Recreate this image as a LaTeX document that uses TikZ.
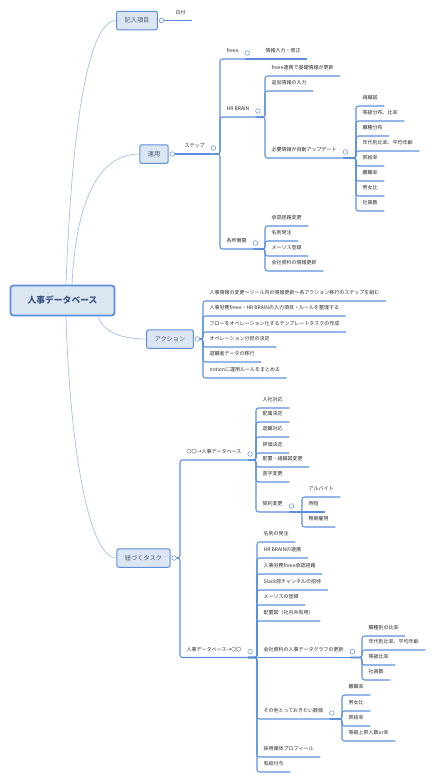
\documentclass[tikz,border=0pt]{standalone}
\usepackage{fontspec}
\setmainfont{Noto Sans CJK JP}
\usetikzlibrary{positioning,calc}
\definecolor{linkblue}{HTML}{5B8FDC}
\definecolor{branchblue}{HTML}{A3C1EC}
\definecolor{boxfill}{HTML}{DCE6F3}
\definecolor{boxline}{HTML}{5A8ED8}
\definecolor{txtgray}{HTML}{2A2A2A}
\definecolor{topictxt}{HTML}{4A5A72}
\definecolor{roottxt}{HTML}{3A5682}

\begin{document}
\begin{tikzpicture}[
    x=1pt, y=-1pt,
    root/.style={draw=boxline, line width=1.8pt, rounded corners=3pt, fill=boxfill, minimum width=104pt, minimum height=30pt, font=\fontsize{8.8}{10}\selectfont\bfseries, text=roottxt},
    topic/.style={draw=boxline, line width=1pt, rounded corners=2pt, fill=boxfill, minimum height=18.5pt, inner xsep=8pt, font=\fontsize{6.2}{7}\selectfont, text=topictxt},
    leaf/.style={anchor=south west, inner xsep=6.5pt, inner ysep=5.5pt, text height=4.2pt, text depth=.8pt, font=\fontsize{5}{6}\selectfont, text=txtgray},
    tog/.style={circle, draw=linkblue, fill=white, line width=.5pt, inner sep=0pt, minimum size=4.6pt},
    link/.style={draw=linkblue, line width=1.05pt, rounded corners=2.5pt},
    branch/.style={draw=branchblue, line width=.7pt}
]
\useasboundingbox (0,0) rectangle (434,780);

% root and main topics
\node[root] (db) at (62.5,300.5) {人事データベース};
\node[topic] (kinyu) at (137,20.5) {記入項目};
\node[topic] (unyo) at (154,154) {運用};
\node[topic] (action) at (170,339) {アクション};
\node[topic] (task) at (143.5,558) {紐づくタスク};

\draw[branch] ([xshift=3.5pt]db.north) .. controls ($(db.north)+(9.5,-165)$) and ($(kinyu.west)+(-27,0)$) .. (kinyu.west);
\draw[branch] ([xshift=9.5pt]db.north) .. controls ($(db.north)+(13.5,-85)$) and ($(unyo.west)+(-40,0)$) .. (unyo.west);
\draw[branch] ([xshift=35.5pt]db.south) .. controls ($(db.south)+(41.5,17)$) and ($(action.west)+(-22,0)$) .. (action.west);
\draw[branch] ([xshift=3.5pt]db.south) .. controls ($(db.south)+(7.5,134.5)$) and ($(task.west)+(-27,0)$) .. (task.west);

\node[tog, right=1pt of kinyu] (kinyuT) {};
\node[tog, right=1pt of unyo] (unyoT) {};
\node[tog, right=1pt of action] (actionT) {};
\node[tog, right=1pt of task] (taskT) {};

% 記入項目
\node[leaf] (hiduke) at (169,20.5) {日付};
\draw[link] (kinyuT.east) -- (hiduke.south east);

% 運用
\node[leaf] (step) at (178,154) {ステップ};
\node[leaf] (freee) at (220,59) {freee};
\node[leaf] (hrb) at (220,117) {HR BRAIN};
\node[leaf] (kakusho) at (220,249) {各所展開};
\node[leaf] (jouhou) at (259,59) {情報入力・修正};
\node[leaf] (hrbA) at (265,76) {freee連携で基礎情報が更新};
\node[leaf] (hrbB) at (265,91) {追加情報の入力};
\node[leaf] (hrbC) at (265,158) {必要情報が自動アップデート};
\node[leaf] (autoA) at (356,106) {組織図};
\node[leaf] (autoB) at (356,121) {等級分布、比率};
\node[leaf] (autoC) at (356,136) {職種分布};
\node[leaf] (autoD) at (356,151) {年代別比率、平均年齢};
\node[leaf] (autoE) at (356,166) {昇給率};
\node[leaf] (autoF) at (356,181) {離職率};
\node[leaf] (autoG) at (356,196) {男女比};
\node[leaf] (autoH) at (356,211) {社員数};
\node[leaf] (kA) at (265,226) {承認経路変更};
\node[leaf] (kB) at (265,241) {名刺発注};
\node[leaf] (kC) at (265,256) {メーリス登録};
\node[leaf] (kD) at (265,271) {会社資料の情報更新};

\draw[link] (unyoT.east) -- (step.south east);
\draw[link] (step.south east) -- (step.south east -| freee.south west) |- (freee.south east);
\draw[link] (step.south east) -- (step.south east -| hrb.south west) |- (hrb.south east);
\draw[link] (step.south east) -- (step.south east -| kakusho.south west) |- (kakusho.south east);
\draw[link] (freee.south east) -- (jouhou.south east);
\draw[link] (hrb.south east) -- (hrb.south east -| hrbA.south west) |- (hrbA.south east);
\draw[link] (hrb.south east) -- (hrb.south east -| hrbB.south west) |- (hrbB.south east);
\draw[link] (hrb.south east) -- (hrb.south east -| hrbC.south west) |- (hrbC.south east);
\draw[link] (hrbC.south east) -- (hrbC.south east -| autoA.south west) |- (autoA.south east);
\draw[link] (hrbC.south east) -- (hrbC.south east -| autoB.south west) |- (autoB.south east);
\draw[link] (hrbC.south east) -- (hrbC.south east -| autoC.south west) |- (autoC.south east);
\draw[link] (hrbC.south east) -- (hrbC.south east -| autoD.south west) |- (autoD.south east);
\draw[link] (hrbC.south east) -- (hrbC.south east -| autoE.south west) |- (autoE.south east);
\draw[link] (hrbC.south east) -- (hrbC.south east -| autoF.south west) |- (autoF.south east);
\draw[link] (hrbC.south east) -- (hrbC.south east -| autoG.south west) |- (autoG.south east);
\draw[link] (hrbC.south east) -- (hrbC.south east -| autoH.south west) |- (autoH.south east);
\draw[link] (kakusho.south east) -- (kakusho.south east -| kA.south west) |- (kA.south east);
\draw[link] (kakusho.south east) -- (kakusho.south east -| kB.south west) |- (kB.south east);
\draw[link] (kakusho.south east) -- (kakusho.south east -| kC.south west) |- (kC.south east);
\draw[link] (kakusho.south east) -- (kakusho.south east -| kD.south west) |- (kD.south east);

% アクション
\node[leaf] (acA) at (203,301) {人事情報の変更〜ツール内の情報更新〜各アクション移行のステップを組む};
\node[leaf] (acB) at (203,316) {人事労務freee・HR BRAINの入力項目・ルールを整理する};
\node[leaf] (acC) at (203,332) {フローをオペレーション化するテンプレートタスクの作成};
\node[leaf] (acD) at (203,347) {オペレーション分担の決定};
\node[leaf] (acE) at (203,362) {退職者データの移行};
\node[leaf] (acF) at (203,378) {notionに運用ルールをまとめる};
\draw[link] (actionT.east) -- (actionT.east -| acA.south west) |- (acA.south east);
\draw[link] (actionT.east) -- (actionT.east -| acB.south west) |- (acB.south east);
\draw[link] (actionT.east) -- (actionT.east -| acC.south west) |- (acC.south east);
\draw[link] (actionT.east) -- (actionT.east -| acD.south west) |- (acD.south east);
\draw[link] (actionT.east) -- (actionT.east -| acE.south west) |- (acE.south east);
\draw[link] (actionT.east) -- (actionT.east -| acF.south west) |- (acF.south east);

% 紐づくタスク
\node[leaf] (tkIn) at (180,460) {〇〇→人事データベース};
\node[leaf] (tkOut) at (180,657.5) {人事データベース→〇〇};
\node[leaf] (inA) at (256,408) {入社対応};
\node[leaf] (inB) at (256,422) {配属決定};
\node[leaf] (inC) at (256,437) {退職対応};
\node[leaf] (inD) at (256,453) {評価決定};
\node[leaf] (inE) at (256,467) {配置・組織図変更};
\node[leaf] (inF) at (256,482) {苗字変更};
\node[leaf] (inG) at (256,512) {契約変更};
\node[leaf] (kyA) at (302,497) {アルバイト};
\node[leaf] (kyB) at (302,512) {時短};
\node[leaf] (kyC) at (302,527) {無期雇用};
\node[leaf] (outA) at (257,542) {名刺の発注};
\node[leaf] (outB) at (257,558) {HR BRAINの連携};
\node[leaf] (outC) at (257,574) {人事労務freee承認経路};
\node[leaf] (outD) at (257,590) {Slack部チャンネルの招待};
\node[leaf] (outE) at (257,605) {メーリスの登録};
\node[leaf] (outF) at (257,621) {配置図（社内共有用）};
\node[leaf] (outG) at (257,657.5) {会社資料の人事データグラフの更新};
\node[leaf] (outH) at (257,719) {その他とっておきたい数値};
\node[leaf] (outI) at (257,757) {採用媒体プロフィール};
\node[leaf] (outJ) at (257,772) {有給付与};
\node[leaf] (grA) at (362,636) {職種別の比率};
\node[leaf] (grB) at (362,650) {年代別比率、平均年齢};
\node[leaf] (grC) at (362,665) {等級比率};
\node[leaf] (grD) at (362,680) {社員数};
\node[leaf] (soA) at (342,695) {離職率};
\node[leaf] (soB) at (342,711) {男女比};
\node[leaf] (soC) at (342,726) {昇給率};
\node[leaf] (soD) at (342,741) {等級上昇人数or率};

\draw[link] (taskT.east) -- (taskT.east -| tkIn.south west) |- (tkIn.south east);
\draw[link] (taskT.east) -- (taskT.east -| tkOut.south west) |- (tkOut.south east);
\draw[link] (tkIn.south east) -- (tkIn.south east -| inA.south west) |- (inA.south east);
\draw[link] (tkIn.south east) -- (tkIn.south east -| inB.south west) |- (inB.south east);
\draw[link] (tkIn.south east) -- (tkIn.south east -| inC.south west) |- (inC.south east);
\draw[link] (tkIn.south east) -- (tkIn.south east -| inD.south west) |- (inD.south east);
\draw[link] (tkIn.south east) -- (tkIn.south east -| inE.south west) |- (inE.south east);
\draw[link] (tkIn.south east) -- (tkIn.south east -| inF.south west) |- (inF.south east);
\draw[link] (tkIn.south east) -- (tkIn.south east -| inG.south west) |- (inG.south east);
\draw[link] (inG.south east) -- (inG.south east -| kyA.south west) |- (kyA.south east);
\draw[link] (inG.south east) -- (kyB.south east);
\draw[link] (inG.south east) -- (inG.south east -| kyC.south west) |- (kyC.south east);
\draw[link] (tkOut.south east) -- (tkOut.south east -| outA.south west) |- (outA.south east);
\draw[link] (tkOut.south east) -- (tkOut.south east -| outB.south west) |- (outB.south east);
\draw[link] (tkOut.south east) -- (tkOut.south east -| outC.south west) |- (outC.south east);
\draw[link] (tkOut.south east) -- (tkOut.south east -| outD.south west) |- (outD.south east);
\draw[link] (tkOut.south east) -- (tkOut.south east -| outE.south west) |- (outE.south east);
\draw[link] (tkOut.south east) -- (tkOut.south east -| outF.south west) |- (outF.south east);
\draw[link] (tkOut.south east) -- (outG.south east);
\draw[link] (tkOut.south east) -- (tkOut.south east -| outH.south west) |- (outH.south east);
\draw[link] (tkOut.south east) -- (tkOut.south east -| outI.south west) |- (outI.south east);
\draw[link] (tkOut.south east) -- (tkOut.south east -| outJ.south west) |- (outJ.south east);
\draw[link] (outG.south east) -- (outG.south east -| grA.south west) |- (grA.south east);
\draw[link] (outG.south east) -- (outG.south east -| grB.south west) |- (grB.south east);
\draw[link] (outG.south east) -- (outG.south east -| grC.south west) |- (grC.south east);
\draw[link] (outG.south east) -- (outG.south east -| grD.south west) |- (grD.south east);
\draw[link] (outH.south east) -- (outH.south east -| soA.south west) |- (soA.south east);
\draw[link] (outH.south east) -- (outH.south east -| soB.south west) |- (soB.south east);
\draw[link] (outH.south east) -- (outH.south east -| soC.south west) |- (soC.south east);
\draw[link] (outH.south east) -- (outH.south east -| soD.south west) |- (soD.south east);

% collapse markers
\node[tog] (stepT) at ($(step.south east)+(2,-6)$) {};
\node[tog] (freeeT) at ($(freee.south east)+(2,-6)$) {};
\node[tog] (hrbT) at ($(hrb.south east)+(2,-6)$) {};
\node[tog] (hrbCT) at ($(hrbC.south east)+(2,-6)$) {};
\node[tog] (kakushoT) at ($(kakusho.south east)+(2,-6)$) {};
\node[tog] (tkInT) at ($(tkIn.south east)+(2,-6)$) {};
\node[tog] (inGT) at ($(inG.south east)+(2,-6)$) {};
\node[tog] (tkOutT) at ($(tkOut.south east)+(2,-6)$) {};
\node[tog] (outGT) at ($(outG.south east)+(2,-6)$) {};
\node[tog] (outHT) at ($(outH.south east)+(2,-6)$) {};
\end{tikzpicture}
\end{document}
